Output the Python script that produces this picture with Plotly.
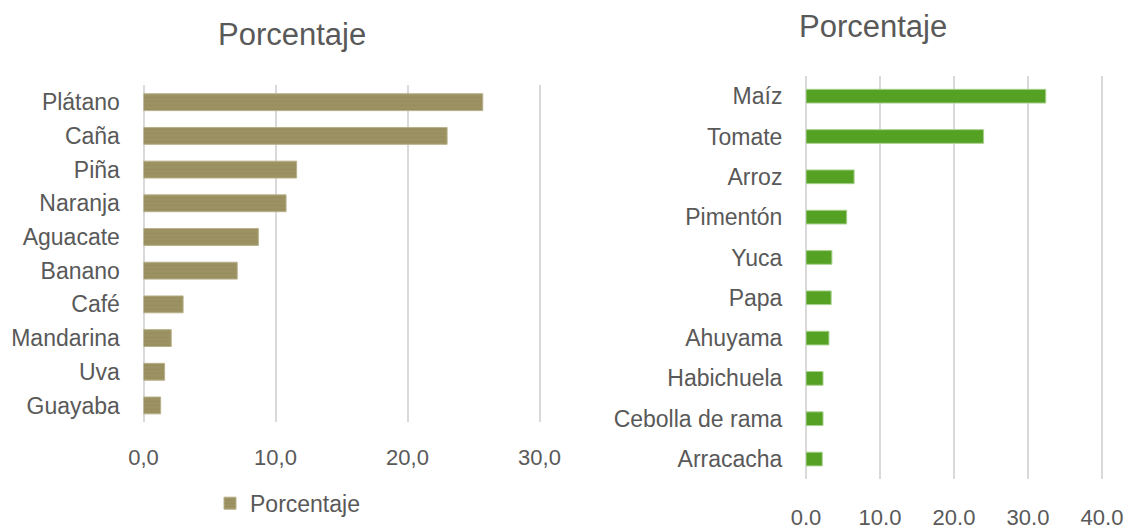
import plotly.graph_objects as go

# left chart: fruit crops
frutales = ['Plátano', 'Caña', 'Piña', 'Naranja', 'Aguacate', 'Banano',
            'Café', 'Mandarina', 'Uva', 'Guayaba']
frutales_pct = [25.7, 23.0, 11.6, 10.8, 8.7, 7.1, 3.0, 2.1, 1.6, 1.3]

# right chart: short-cycle crops
transitorios = ['Maíz', 'Tomate', 'Arroz', 'Pimentón', 'Yuca', 'Papa',
                'Ahuyama', 'Habichuela', 'Cebolla de rama', 'Arracacha']
transitorios_pct = [32.4, 24.0, 6.5, 5.5, 3.5, 3.4, 3.1, 2.3, 2.3, 2.2]

W, H = 1131, 525
TXT = '#595959'
GRID = '#d9d9d9'
FONT = 'Liberation Sans, Arial, sans-serif'


def px_x(p):
    return p / W


def px_y(p):
    return 1 - p / H


fig = go.Figure()

fig.add_trace(go.Bar(
    x=frutales_pct, y=frutales, orientation='h', name='Porcentaje',
    width=0.5, xaxis='x', yaxis='y',
    marker=dict(color='#998f5e', line=dict(color='#b8b08a', width=1),
                pattern=dict(shape='-', fgcolor='#aaa27c', size=4, solidity=0.2)),
    showlegend=True,
))

fig.add_trace(go.Bar(
    x=transitorios_pct, y=transitorios, orientation='h', name='Porcentaje',
    width=0.34, xaxis='x2', yaxis='y2',
    marker=dict(color='#55a124', line=dict(color='#a9d18e', width=1)),
    showlegend=False,
))

axis_common = dict(showgrid=True, gridcolor=GRID, gridwidth=1.5,
                   zeroline=True, zerolinecolor=GRID, zerolinewidth=2,
                   showline=False, tickformat='.1f', dtick=10, automargin=False,
                   ticks='outside', tickcolor='rgba(0,0,0,0)',
                   tickfont=dict(size=22, color=TXT), fixedrange=True)
cat_common = dict(autorange='reversed', showgrid=False, showline=False,
                  automargin=False,
                  ticks='outside', ticklen=18, tickcolor='rgba(0,0,0,0)',
                  tickfont=dict(size=23, color=TXT))

fig.update_layout(
    width=W, height=H,
    margin=dict(l=0, r=0, t=0, b=0, pad=0),
    paper_bgcolor='white', plot_bgcolor='white',
    font=dict(family=FONT, color=TXT),
    separators=',.',
    xaxis=dict(axis_common, range=[0, 30.3], ticklen=15,
               domain=[px_x(143.5), px_x(143.5 + 30.3 * 13.2)], anchor='y'),
    yaxis=dict(cat_common, domain=[px_y(430.5), px_y(87)], anchor='x'),
    xaxis2=dict(axis_common, range=[0, 40.4], ticklen=18,
                domain=[px_x(806), px_x(806 + 40.4 * 7.4)], anchor='y2'),
    yaxis2=dict(cat_common, domain=[px_y(488.5), px_y(77.5)], anchor='x2'),
    legend=dict(x=px_x(210), y=px_y(513), xanchor='left', yanchor='middle',
                orientation='h', font=dict(size=23, color=TXT),
                itemwidth=30, bgcolor='rgba(0,0,0,0)'),
    annotations=[
        dict(text='Porcentaje', x=px_x(292), y=px_y(35), xref='paper', yref='paper',
             xanchor='center', yanchor='middle',
             showarrow=False, font=dict(size=31, color=TXT)),
        dict(text='Porcentaje', x=px_x(873), y=px_y(27), xref='paper', yref='paper',
             xanchor='center', yanchor='middle',
             showarrow=False, font=dict(size=31, color=TXT)),
    ],
)

# drop the default page margin so the figure sits at the window's corner
fig.write_html('out.html', config={'displayModeBar': False},
               post_script="document.body.style.margin = '0';")
